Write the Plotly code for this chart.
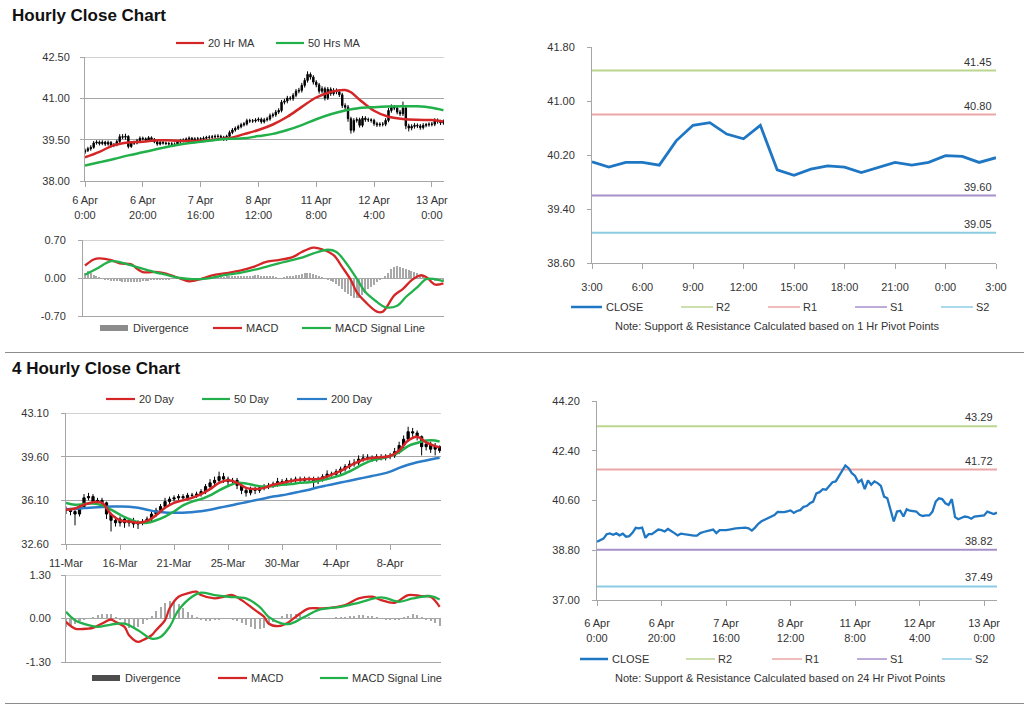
import plotly.graph_objects as go

W, H = 1024, 706

# ---------------- DATA ----------------
# Hourly bars (6 Apr 0:00 -> 13 Apr ~4:00), index = hour number
hourly_open = [39.05, 39.11, 39.17, 39.22, 39.38, 39.41, 39.36, 39.41, 39.34, 39.40,
               39.29, 39.31, 39.43, 39.61, 39.59, 39.62, 39.25, 39.38, 39.38, 39.46,
               39.55, 39.53, 39.48, 39.57, 39.51, 39.42, 39.34, 39.40, 39.38, 39.36,
               39.35, 39.33, 39.33, 39.42, 39.46, 39.48, 39.52, 39.55, 39.42, 39.53,
               39.52, 39.53, 39.55, 39.58, 39.59, 39.60, 39.62, 39.62, 39.59, 39.51,
               39.62, 39.76, 39.85, 39.91, 39.97, 40.04, 40.07, 40.19, 40.18, 40.18,
               40.21, 40.24, 40.15, 40.22, 40.25, 40.37, 40.40, 40.50, 40.56, 40.86,
               40.90, 41.01, 40.99, 41.11, 41.26, 41.29, 41.47, 41.65, 41.87, 41.77,
               41.59, 41.49, 41.26, 41.35, 41.01, 41.33, 41.17, 41.29, 41.23, 41.13,
               40.74, 40.68, 40.26, 39.84, 40.20, 40.23, 40.02, 40.28, 40.23, 40.22,
               40.20, 40.08, 40.04, 40.06, 40.06, 40.20, 40.56, 40.68, 40.65, 40.50,
               40.44, 40.65, 40.00, 39.92, 39.98, 40.02, 40.00, 39.94, 40.02, 40.04,
               40.06, 40.06, 40.20, 40.16, 40.11]
hourly_high = [39.18, 39.24, 39.30, 39.45, 39.48, 39.47, 39.48, 39.46, 39.47, 39.45,
               39.38, 39.50, 39.70, 39.70, 39.72, 39.66, 39.45, 39.46, 39.53, 39.62,
               39.61, 39.58, 39.63, 39.62, 39.56, 39.47, 39.46, 39.45, 39.43, 39.42,
               39.41, 39.40, 39.48, 39.53, 39.55, 39.58, 39.62, 39.60, 39.59, 39.60,
               39.59, 39.62, 39.64, 39.66, 39.67, 39.69, 39.70, 39.68, 39.64, 39.68,
               39.83, 39.92, 39.98, 40.04, 40.11, 40.14, 40.26, 40.26, 40.25, 40.28,
               40.31, 40.30, 40.29, 40.33, 40.45, 40.48, 40.58, 40.64, 40.94, 40.98,
               41.09, 41.08, 41.19, 41.34, 41.38, 41.56, 41.74, 41.98, 41.94, 41.84,
               41.66, 41.56, 41.44, 41.42, 41.41, 41.40, 41.37, 41.36, 41.30, 41.20,
               40.82, 40.76, 40.33, 40.28, 40.31, 40.30, 40.36, 40.35, 40.30, 40.28,
               40.26, 40.15, 40.13, 40.14, 40.28, 40.65, 40.78, 40.76, 40.72, 40.58,
               40.88, 40.72, 40.08, 40.06, 40.10, 40.09, 40.07, 40.10, 40.11, 40.13,
               40.14, 40.28, 40.27, 40.22, 40.23]
hourly_low = [38.98, 39.05, 39.10, 39.17, 39.32, 39.29, 39.30, 39.27, 39.28, 39.22,
              39.23, 39.26, 39.38, 39.52, 39.50, 39.18, 39.20, 39.31, 39.33, 39.41,
              39.47, 39.42, 39.44, 39.46, 39.37, 39.28, 39.29, 39.32, 39.30, 39.28,
              39.27, 39.26, 39.28, 39.37, 39.40, 39.42, 39.46, 39.36, 39.37, 39.46,
              39.45, 39.47, 39.49, 39.52, 39.53, 39.54, 39.55, 39.52, 39.45, 39.46,
              39.57, 39.70, 39.79, 39.85, 39.91, 39.98, 40.01, 40.11, 40.11, 40.12,
              40.15, 40.08, 40.09, 40.16, 40.19, 40.30, 40.33, 40.43, 40.49, 40.78,
              40.82, 40.92, 40.91, 41.04, 41.18, 41.21, 41.39, 41.57, 41.68, 41.50,
              41.40, 41.17, 41.18, 40.92, 40.94, 41.09, 41.10, 41.15, 41.05, 40.65,
              40.58, 40.15, 39.72, 39.76, 40.12, 39.94, 39.95, 40.15, 40.14, 40.12,
              40.00, 39.96, 39.97, 39.98, 39.99, 40.13, 40.48, 40.57, 40.42, 40.36,
              40.36, 39.88, 39.80, 39.84, 39.90, 39.92, 39.86, 39.87, 39.95, 39.97,
              39.98, 39.99, 40.08, 40.03, 40.04]
hourly_close = [39.11, 39.17, 39.22, 39.38, 39.41, 39.36, 39.41, 39.34, 39.40, 39.29,
                39.31, 39.43, 39.61, 39.59, 39.62, 39.25, 39.38, 39.38, 39.46, 39.55,
                39.53, 39.48, 39.57, 39.51, 39.42, 39.34, 39.40, 39.38, 39.36, 39.35,
                39.33, 39.33, 39.42, 39.46, 39.48, 39.52, 39.55, 39.42, 39.53, 39.52,
                39.53, 39.55, 39.58, 39.59, 39.60, 39.62, 39.62, 39.59, 39.51, 39.62,
                39.76, 39.85, 39.91, 39.97, 40.04, 40.07, 40.19, 40.18, 40.18, 40.21,
                40.24, 40.15, 40.22, 40.25, 40.37, 40.40, 40.50, 40.56, 40.86, 40.90,
                41.01, 40.99, 41.11, 41.26, 41.29, 41.47, 41.65, 41.87, 41.77, 41.59,
                41.49, 41.26, 41.35, 41.01, 41.33, 41.17, 41.29, 41.23, 41.13, 40.74,
                40.68, 40.26, 39.84, 40.20, 40.23, 40.02, 40.28, 40.23, 40.22, 40.20,
                40.08, 40.04, 40.06, 40.06, 40.20, 40.56, 40.68, 40.65, 40.50, 40.44,
                40.65, 40.00, 39.92, 39.98, 40.02, 40.00, 39.94, 40.02, 40.04, 40.06,
                40.06, 40.20, 40.16, 40.11, 40.16]
hourly_index = list(range(len(hourly_close)))
hourly_tick_pos = [0, 20, 40, 60, 80, 100, 120]
hourly_tick_text = ["6 Apr<br>0:00", "6 Apr<br>20:00", "7 Apr<br>16:00", "8 Apr<br>12:00",
                    "11 Apr<br>8:00", "12 Apr<br>4:00", "13 Apr<br>0:00"]

ma_hr_pos = [0, 5, 10, 15, 20, 25, 30, 35, 40, 45, 50, 55, 60, 65, 70, 75, 80, 85, 90,
             92, 95, 100, 105, 110, 115, 120, 124]
ma20_hr = [38.86, 39.06, 39.30, 39.40, 39.42, 39.48, 39.47, 39.45, 39.46, 39.51, 39.56,
           39.70, 39.85, 40.05, 40.33, 40.69, 41.03, 41.23, 41.30, 41.22, 40.95, 40.55,
           40.33, 40.25, 40.22, 40.21, 40.16]
ma50_hr = [38.56, 38.68, 38.80, 38.93, 39.04, 39.16, 39.27, 39.36, 39.42, 39.49, 39.53,
           39.55, 39.63, 39.71, 39.85, 40.03, 40.24, 40.42, 40.56, 40.60, 40.65, 40.68,
           40.70, 40.71, 40.71, 40.66, 40.57]

macd_hr_pos = [0, 3, 5, 9, 12, 16, 18, 20, 25, 28, 33, 36, 40, 44, 49, 54, 58, 63, 67, 72,
               75, 79, 82, 86, 89, 92, 94, 97, 101, 103, 107, 110, 113, 116, 118, 121, 124]
macd_hr = [0.23, 0.34, 0.36, 0.33, 0.27, 0.25, 0.17, 0.11, 0.11, 0.08, -0.01, -0.06, -0.02,
           0.05, 0.09, 0.14, 0.20, 0.30, 0.33, 0.39, 0.48, 0.56, 0.53, 0.42, 0.20, -0.04,
           -0.26, -0.44, -0.62, -0.62, -0.32, -0.20, -0.04, 0.05, 0.02, -0.12, -0.10]
signal_hr_pos = [0, 4, 9, 13, 18, 24, 28, 33, 37, 42, 47, 54, 60, 67, 74, 80, 84, 87, 90,
                 94, 97, 101, 104, 108, 111, 115, 118, 121, 124]
signal_hr = [0.06, 0.17, 0.31, 0.28, 0.20, 0.11, 0.06, 0.00, -0.02, -0.01, 0.04, 0.10, 0.17,
             0.27, 0.36, 0.47, 0.52, 0.48, 0.30, -0.01, -0.26, -0.44, -0.54, -0.51, -0.35,
             -0.17, -0.02, -0.02, -0.06]
divergence_hr = [0.10, 0.12, 0.10, 0.06, 0.03, 0.01, -0.01, -0.03, -0.04, -0.05,
                 -0.05, -0.06, -0.06, -0.07, -0.07, -0.08, -0.08, -0.08, -0.07, -0.07,
                 -0.06, -0.05, -0.05, -0.04, -0.04, -0.03, -0.03, -0.02, -0.02, -0.02,
                 -0.01, -0.01, -0.01, 0.00, -0.01, -0.02, -0.02, -0.01, 0.00, 0.00,
                 0.00, 0.01, 0.01, 0.01, 0.01, 0.02, 0.02, 0.01, 0.01, 0.02,
                 0.02, 0.02, 0.02, 0.03, 0.03, 0.02, 0.03, 0.04, 0.04, 0.05,
                 0.05, 0.04, 0.04, 0.03, 0.03, 0.02, 0.01, 0.00, 0.00, 0.01,
                 0.02, 0.03, 0.04, 0.05, 0.06, 0.08, 0.09, 0.10, 0.09, 0.07,
                 0.05, 0.03, 0.01, -0.01, -0.03, -0.05, -0.08, -0.11, -0.15, -0.20,
                 -0.25, -0.29, -0.33, -0.36, -0.37, -0.36, -0.32, -0.27, -0.21, -0.16,
                 -0.12, -0.08, -0.04, 0.00, 0.04, 0.10, 0.16, 0.20, 0.22, 0.21,
                 0.19, 0.17, 0.15, 0.13, 0.11, 0.09, 0.05, 0.02, 0.00, -0.03,
                 -0.04, -0.05, -0.05, -0.06, -0.08]

# 1-hour pivot chart (3:00 -> 3:00)
pivot1_close = [40.10, 40.02, 40.09, 40.09, 40.05, 40.41, 40.64, 40.68, 40.51, 40.44,
                40.64, 39.98, 39.90, 39.99, 40.04, 40.02, 39.94, 40.02, 40.09, 40.05,
                40.09, 40.19, 40.18, 40.09, 40.16]
pivot1_tick_pos = [0, 3, 6, 9, 12, 15, 18, 21, 24]
pivot1_tick_text = ["3:00", "6:00", "9:00", "12:00", "15:00", "18:00", "21:00", "0:00", "3:00"]
pivot1_levels = {"R2": 41.45, "R1": 40.80, "S1": 39.60, "S2": 39.05}

# 24-hour pivot levels (close = hourly_close)
pivot24_levels = {"R2": 43.29, "R1": 41.72, "S1": 38.82, "S2": 37.49}

# 4-hourly bars (11-Mar -> 12-Apr)
h4_open = [35.4, 35.3, 35.2, 35.0, 35.6, 36.3, 36.4, 36.0, 36.1, 35.9,
           35.0, 34.5, 34.3, 34.6, 34.3, 34.5, 34.2, 34.3, 34.4, 34.6,
           35.0, 35.3, 35.6, 36.0, 36.2, 36.3, 36.4, 36.3, 36.5, 36.5,
           36.6, 36.8, 37.2, 37.5, 37.7, 38.0, 37.8, 37.6, 37.7, 37.3,
           36.9, 36.7, 37.0, 36.9, 37.1, 37.2, 37.3, 37.4, 37.6, 37.5,
           37.7, 37.7, 37.8, 37.7, 37.8, 37.8, 37.6, 37.8, 38.0, 38.2,
           38.2, 38.4, 38.6, 38.8, 39.0, 39.1, 39.4, 39.5, 39.5, 39.4,
           39.6, 39.5, 39.6, 39.7, 40.0, 40.5, 41.0, 41.6, 41.5, 41.2,
           40.4, 40.6, 40.2, 40.4]
h4_high = [35.6, 35.5, 35.4, 35.8, 36.6, 36.7, 36.6, 36.3, 36.3, 36.0,
           35.1, 34.8, 34.8, 34.8, 34.7, 34.7, 34.5, 34.6, 34.8, 35.2,
           35.5, 35.8, 36.3, 36.4, 36.5, 36.6, 36.6, 36.7, 36.7, 36.8,
           37.0, 37.4, 37.8, 38.0, 38.4, 38.3, 38.0, 37.9, 37.9, 37.5,
           37.1, 37.2, 37.2, 37.3, 37.4, 37.5, 37.6, 37.9, 37.8, 37.9,
           37.9, 38.0, 38.0, 38.0, 38.0, 38.0, 38.0, 38.2, 38.5, 38.4,
           38.6, 38.8, 39.0, 39.3, 39.4, 39.7, 39.8, 39.8, 39.7, 39.8,
           39.8, 39.8, 39.9, 40.3, 40.8, 41.3, 42.0, 41.9, 41.7, 41.3,
           40.9, 40.8, 40.7, 40.5]
h4_low = [35.0, 34.9, 34.1, 34.8, 35.5, 36.1, 35.8, 35.8, 35.6, 34.6,
          33.6, 34.0, 34.0, 33.9, 34.0, 33.9, 33.8, 34.1, 34.2, 34.4,
          34.8, 35.1, 35.4, 35.8, 36.0, 36.1, 36.1, 36.1, 36.3, 36.3,
          36.4, 36.6, 37.0, 37.3, 37.5, 37.5, 37.3, 37.4, 37.0, 36.6,
          36.4, 36.5, 36.6, 36.7, 36.9, 37.0, 37.1, 37.2, 37.3, 37.3,
          37.5, 37.5, 37.5, 37.5, 37.6, 37.1, 37.4, 37.6, 37.8, 38.0,
          38.0, 38.2, 38.4, 38.6, 38.8, 38.9, 39.2, 39.3, 39.2, 39.2,
          39.3, 39.3, 39.4, 39.5, 39.8, 40.3, 40.8, 41.2, 40.9, 39.7,
          40.1, 39.9, 39.7, 39.9]
h4_close = [35.3, 35.2, 35.0, 35.6, 36.3, 36.4, 36.0, 36.1, 35.9, 35.0,
            34.5, 34.3, 34.6, 34.3, 34.5, 34.2, 34.3, 34.4, 34.6, 35.0,
            35.3, 35.6, 36.0, 36.2, 36.3, 36.4, 36.3, 36.5, 36.5, 36.6,
            36.8, 37.2, 37.5, 37.7, 38.0, 37.8, 37.6, 37.7, 37.3, 36.9,
            36.7, 37.0, 36.9, 37.1, 37.2, 37.3, 37.4, 37.6, 37.5, 37.7,
            37.7, 37.8, 37.7, 37.8, 37.8, 37.6, 37.8, 38.0, 38.2, 38.2,
            38.4, 38.6, 38.8, 39.0, 39.1, 39.4, 39.5, 39.5, 39.4, 39.6,
            39.5, 39.6, 39.7, 40.0, 40.5, 41.0, 41.6, 41.5, 41.2, 40.4,
            40.6, 40.2, 40.4, 40.1]
h4_index = list(range(len(h4_close)))
h4_tick_pos = [0, 12, 24, 36, 48, 60, 72]
h4_tick_text = ["11-Mar", "16-Mar", "21-Mar", "25-Mar", "30-Mar", "4-Apr", "8-Apr"]

ma4_pos = [0, 2, 4, 6, 8, 10, 12, 14, 16, 18, 20, 22, 24, 26, 28, 30, 32, 34, 36, 38, 40,
           42, 44, 46, 48, 50, 52, 54, 56, 58, 60, 62, 64, 66, 68, 70, 72, 74, 76, 78, 80,
           82, 83]
ma20_day = [35.35, 35.45, 35.75, 35.95, 35.9, 35.0, 34.5, 34.4, 34.3, 34.45, 34.9, 35.5,
            35.9, 36.1, 36.3, 36.6, 37.0, 37.5, 37.7, 37.5, 37.1, 37.0, 37.1, 37.35, 37.5,
            37.65, 37.75, 37.8, 37.8, 38.0, 38.3, 38.65, 39.05, 39.35, 39.5, 39.55, 39.65,
            40.1, 40.9, 41.2, 40.75, 40.45, 40.35]
ma50_day = [35.9, 35.75, 35.8, 35.85, 35.7, 35.35, 34.95, 34.6, 34.35, 34.3, 34.5, 34.8,
            35.2, 35.7, 36.0, 36.2, 36.5, 36.9, 37.25, 37.5, 37.45, 37.3, 37.2, 37.25, 37.35,
            37.4, 37.5, 37.55, 37.65, 37.8, 38.0, 38.25, 38.6, 39.0, 39.3, 39.45, 39.65,
            39.95, 40.45, 40.7, 40.9, 40.9, 40.8]
ma200_day = [35.38, 35.42, 35.48, 35.52, 35.56, 35.6, 35.6, 35.58, 35.5, 35.35, 35.2, 35.12,
             35.1, 35.1, 35.15, 35.22, 35.35, 35.5, 35.65, 35.8, 35.95, 36.1, 36.25, 36.4,
             36.5, 36.65, 36.8, 36.95, 37.15, 37.3, 37.45, 37.6, 37.75, 37.9, 38.05, 38.2,
             38.4, 38.7, 38.95, 39.15, 39.3, 39.45, 39.52]

macd4_pos = [0, 2, 5, 6, 8, 10, 11, 13, 14, 16, 17, 19, 20, 22, 23, 25, 27, 29, 30, 33,
             35, 37, 39, 42, 44, 45, 47, 49, 51, 54, 57, 62, 65, 68, 70, 73, 76, 79, 81, 83]
macd4 = [-0.10, -0.30, -0.30, -0.28, -0.15, -0.03, -0.10, -0.25, -0.50, -0.70,
         -0.65, -0.50, -0.35, -0.05, 0.30, 0.65, 0.75, 0.80, 0.70, 0.60,
         0.65, 0.70, 0.55, 0.25, 0.05, -0.15, -0.23, -0.15, 0.05, 0.30,
         0.30, 0.40, 0.60, 0.65, 0.55, 0.47, 0.70, 0.67, 0.65, 0.35]
signal4_pos = [0, 2, 5, 7, 10, 13, 16, 19, 21, 23, 25, 28, 30, 33, 36, 40, 43, 45, 48, 50,
               53, 56, 61, 65, 70, 74, 77, 81, 83]
signal4 = [0.20, -0.05, -0.20, -0.25, -0.18, -0.15, -0.35, -0.60, -0.55, -0.25,
           0.25, 0.65, 0.77, 0.70, 0.65, 0.60, 0.35, 0.05, -0.15, -0.15,
           0.05, 0.25, 0.35, 0.47, 0.63, 0.50, 0.60, 0.67, 0.57]
divergence4 = [-0.25, -0.22, -0.15, -0.08, -0.03, 0.00, 0.05, 0.10, 0.13, 0.14,
               0.12, 0.05, -0.05, -0.18, -0.27, -0.30, -0.25, -0.15, -0.05, 0.08,
               0.22, 0.35, 0.45, 0.53, 0.50, 0.42, 0.32, 0.20, 0.10, 0.03,
               -0.03, -0.06, -0.06, -0.05, -0.03, -0.01, 0.00, -0.02, -0.06, -0.12,
               -0.18, -0.25, -0.30, -0.30, -0.27, -0.20, -0.10, 0.00, 0.08, 0.12,
               0.14, 0.13, 0.10, 0.06, 0.03, 0.01, 0.00, -0.01, -0.01, 0.00,
               0.02, 0.03, 0.04, 0.06, 0.08, 0.10, 0.10, 0.08, 0.06, 0.03,
               0.00, -0.03, -0.05, -0.05, -0.03, 0.02, 0.08, 0.12, 0.10, 0.05,
               -0.03, -0.08, -0.12, -0.22]

# Y-axis tick values per panel
ticks_hourly = [38.00, 39.50, 41.00, 42.50]
ticks_macd_hr = [-0.70, 0.00, 0.70]
ticks_pivot1 = [38.60, 39.40, 40.20, 41.00, 41.80]
ticks_h4 = [32.60, 36.10, 39.60, 43.10]
ticks_macd4 = [-1.30, 0.00, 1.30]
ticks_pivot24 = [37.00, 38.80, 40.60, 42.40, 44.20]

# ---------------- STYLE ----------------
FONT = "Liberation Sans, Arial, sans-serif"
TXT = "#333333"
GRID = "#a6a6a6"
RED = "#d42626"
GREEN = "#22b04b"
BLUE200 = "#2b7cc9"
CLOSE_BLUE = "#1f77c4"
LEVEL_COL = {"R2": "#bcd68f", "R1": "#eba7a7", "S1": "#a690cc", "S2": "#8ccce3"}
BAR_GRAY = "#a8a8a8"


def xd(l, r):
    return [l / W, r / W]


def yd(t, b):
    return [1 - b / H, 1 - t / H]


fig = go.Figure()

# ---- Panel A: hourly candles + MAs ----
fig.add_trace(go.Candlestick(
    x=hourly_index, open=hourly_open, high=hourly_high, low=hourly_low, close=hourly_close,
    increasing=dict(line=dict(color="black", width=1), fillcolor="black"),
    decreasing=dict(line=dict(color="black", width=1), fillcolor="black"),
    whiskerwidth=0, xaxis="x", yaxis="y", showlegend=False, hoverinfo="skip"))
fig.add_trace(go.Scatter(x=ma_hr_pos, y=ma20_hr, mode="lines", line=dict(color=RED, width=2.5, shape="spline"),
                         xaxis="x", yaxis="y", showlegend=False))
fig.add_trace(go.Scatter(x=ma_hr_pos, y=ma50_hr, mode="lines", line=dict(color=GREEN, width=2.5, shape="spline"),
                         xaxis="x", yaxis="y", showlegend=False))

# ---- Panel B: hourly MACD ----
fig.add_trace(go.Bar(x=hourly_index, y=divergence_hr, marker=dict(color=BAR_GRAY, line=dict(width=0)),
                     width=0.45, xaxis="x2", yaxis="y2", showlegend=False))
fig.add_trace(go.Scatter(x=macd_hr_pos, y=macd_hr, mode="lines", line=dict(color=RED, width=2.3, shape="spline"),
                         xaxis="x2", yaxis="y2", showlegend=False))
fig.add_trace(go.Scatter(x=signal_hr_pos, y=signal_hr, mode="lines", line=dict(color=GREEN, width=2.3, shape="spline"),
                         xaxis="x2", yaxis="y2", showlegend=False))

# ---- Panel C: 1 Hr pivot chart ----
p1x = list(range(len(pivot1_close)))
for name, val in pivot1_levels.items():
    fig.add_trace(go.Scatter(x=[p1x[0], p1x[-1]], y=[val, val], mode="lines",
                             line=dict(color=LEVEL_COL[name], width=2), xaxis="x3", yaxis="y3", showlegend=False))
fig.add_trace(go.Scatter(x=p1x, y=pivot1_close, mode="lines", line=dict(color=CLOSE_BLUE, width=2.8),
                         xaxis="x3", yaxis="y3", showlegend=False))

# ---- Panel D: 4 hourly candles + MAs ----
fig.add_trace(go.Candlestick(
    x=h4_index, open=h4_open, high=h4_high, low=h4_low, close=h4_close,
    increasing=dict(line=dict(color="black", width=1), fillcolor="black"),
    decreasing=dict(line=dict(color="black", width=1), fillcolor="black"),
    whiskerwidth=0, xaxis="x4", yaxis="y4", showlegend=False, hoverinfo="skip"))
fig.add_trace(go.Scatter(x=ma4_pos, y=ma200_day, mode="lines", line=dict(color=BLUE200, width=2.5, shape="spline"),
                         xaxis="x4", yaxis="y4", showlegend=False))
fig.add_trace(go.Scatter(x=ma4_pos, y=ma50_day, mode="lines", line=dict(color=GREEN, width=2.5, shape="spline"),
                         xaxis="x4", yaxis="y4", showlegend=False))
fig.add_trace(go.Scatter(x=ma4_pos, y=ma20_day, mode="lines", line=dict(color=RED, width=2.5, shape="spline"),
                         xaxis="x4", yaxis="y4", showlegend=False))

# ---- Panel E: 4 hourly MACD ----
fig.add_trace(go.Bar(x=h4_index, y=divergence4, marker=dict(color=BAR_GRAY, line=dict(width=0)),
                     width=0.45, xaxis="x5", yaxis="y5", showlegend=False))
fig.add_trace(go.Scatter(x=macd4_pos, y=macd4, mode="lines", line=dict(color=RED, width=2.3, shape="spline"),
                         xaxis="x5", yaxis="y5", showlegend=False))
fig.add_trace(go.Scatter(x=signal4_pos, y=signal4, mode="lines", line=dict(color=GREEN, width=2.3, shape="spline"),
                         xaxis="x5", yaxis="y5", showlegend=False))

# ---- Panel F: 24 Hr pivot chart ----
for name, val in pivot24_levels.items():
    fig.add_trace(go.Scatter(x=[hourly_index[0], hourly_index[-1]], y=[val, val], mode="lines",
                             line=dict(color=LEVEL_COL[name], width=2), xaxis="x6", yaxis="y6", showlegend=False))
fig.add_trace(go.Scatter(x=hourly_index, y=hourly_close, mode="lines", line=dict(color=CLOSE_BLUE, width=2.3),
                         xaxis="x6", yaxis="y6", showlegend=False))

# ---------------- AXES ----------------
tickfont = dict(family=FONT, size=11, color=TXT)


def yaxis(domain, tickvals, anchor, grid, standoff, zeroline=False):
    return dict(domain=domain, range=[tickvals[0], tickvals[-1]], automargin=False,
                tickmode="array", tickvals=tickvals, ticktext=["%.2f" % v for v in tickvals],
                showgrid=grid, gridcolor=GRID, gridwidth=1,
                showline=True, linecolor=GRID, linewidth=1,
                ticks="outside", ticklen=4, tickcolor=GRID, tickfont=tickfont,
                ticklabelstandoff=standoff,
                zeroline=zeroline, zerolinecolor=GRID, zerolinewidth=1,
                anchor=anchor, fixedrange=True)


def xaxis(domain, rng, anchor, tickvals=None, ticktext=None, standoff=0):
    d = dict(domain=domain, range=rng, anchor=anchor, showgrid=False, zeroline=False, automargin=False,
             showline=True, linecolor=GRID, linewidth=1, fixedrange=True,
             rangeslider=dict(visible=False))
    if tickvals is not None:
        d.update(tickmode="array", tickvals=tickvals, ticktext=ticktext, ticks="outside",
                 ticklen=5, tickcolor=GRID, tickfont=tickfont, ticklabelstandoff=standoff, showticklabels=True)
    else:
        d.update(showticklabels=False, ticks="")
    return d


fig.update_layout(
    xaxis=xaxis(xd(85, 444), [0, 124.2], "y", hourly_tick_pos, hourly_tick_text, 4),
    yaxis=yaxis(yd(57, 181), ticks_hourly, "x", True, 8),
    xaxis2=xaxis(xd(83, 444), [-0.7, 124.2], "y2"),
    yaxis2=yaxis(yd(240, 316), ticks_macd_hr, "x2", True, 10, zeroline=True),
    xaxis3=xaxis(xd(592, 996), [0, 24], "y3", pivot1_tick_pos, pivot1_tick_text, 9),
    yaxis3=yaxis(yd(47, 263), ticks_pivot1, "x3", False, 10),
    xaxis4=xaxis(xd(66, 441), [0, 83.3], "y4", h4_tick_pos, h4_tick_text, 4),
    yaxis4=yaxis(yd(413, 544), ticks_h4, "x4", True, 10),
    xaxis5=xaxis(xd(66, 441), [0, 83.3], "y5"),
    yaxis5=yaxis(yd(575, 662), ticks_macd4, "x5", True, 8, zeroline=True),
    xaxis6=xaxis(xd(597, 997), [0, 124], "y6", hourly_tick_pos, hourly_tick_text, 8),
    yaxis6=yaxis(yd(401, 600), ticks_pivot24, "x6", False, 10),
)

# ---------------- LEGENDS, TITLES, NOTES ----------------
shapes = []
annotations = []

# top gridline of each gridded panel (at the highest tick value)
for xa, ya, tv in [("x", "y", ticks_hourly), ("x2", "y2", ticks_macd_hr),
                   ("x4", "y4", ticks_h4), ("x5", "y5", ticks_macd4)]:
    shapes.append(dict(type="line", xref=xa + " domain", yref=ya, x0=0, x1=1, y0=tv[-1], y1=tv[-1],
                       line=dict(color=GRID, width=1), layer="below"))


def px(x):
    return x / W


def py(y):
    return 1 - y / H


def leg_line(x0, x1, y, color, width=2.2):
    shapes.append(dict(type="line", xref="paper", yref="paper", x0=px(x0), x1=px(x1), y0=py(y), y1=py(y),
                       line=dict(color=color, width=width)))


def leg_box(x0, x1, y, color):
    shapes.append(dict(type="rect", xref="paper", yref="paper", x0=px(x0), x1=px(x1), y0=py(y + 3), y1=py(y - 3),
                       line=dict(width=0), fillcolor=color))


def text(x, y, s, size=11, anchor="left", bold=False, color=TXT):
    annotations.append(dict(xref="paper", yref="paper", x=px(x), y=py(y), text=("<b>%s</b>" % s) if bold else s,
                            showarrow=False, xanchor=anchor, yanchor="middle",
                            font=dict(family=FONT, size=size, color=color)))


# Titles
text(10, 16, "Hourly Close Chart", size=17, bold=True, color="#111111")
text(10, 369, "4 Hourly Close Chart", size=17, bold=True, color="#111111")

# Panel A legend
leg_line(176, 204, 43, RED)
text(206, 43, "20 Hr MA")
leg_line(276, 304, 43, GREEN)
text(306, 43, "50 Hrs MA")

# Panel B legend
leg_box(100, 128, 328, "#8c8c8c")
text(131, 328, "Divergence")
leg_line(213, 242, 328, RED)
text(244, 328, "MACD")
leg_line(302, 331, 328, GREEN)
text(333, 328, "MACD Signal Line")

# Panel C legend
leg_line(571, 602, 307, CLOSE_BLUE, 2.5)
text(604, 307, "CLOSE")
leg_line(681, 713, 307, LEVEL_COL["R2"], 1.5)
text(714, 307, "R2")
leg_line(768, 800, 307, LEVEL_COL["R1"], 1.5)
text(801, 307, "R1")
leg_line(855, 887, 307, LEVEL_COL["S1"], 1.5)
text(888, 307, "S1")
leg_line(941, 973, 307, LEVEL_COL["S2"], 1.5)
text(974, 307, "S2")
text(777, 326, "Note: Support & Resistance Calculated based on 1 Hr Pivot Points", anchor="center")

# Panel D legend
leg_line(106, 135, 399, RED)
text(137, 399, "20 Day")
leg_line(202, 230, 399, GREEN)
text(232, 399, "50 Day")
leg_line(297, 327, 399, BLUE200)
text(329, 399, "200 Day")

# Panel E legend
leg_box(92, 120, 678, "#4d4d4d")
text(123, 678, "Divergence")
leg_line(218, 247, 678, RED)
text(249, 678, "MACD")
leg_line(320, 348, 678, GREEN)
text(350, 678, "MACD Signal Line")

# Panel F legend
leg_line(580, 608, 659, CLOSE_BLUE, 2.5)
text(610, 659, "CLOSE")
leg_line(686, 715, 659, LEVEL_COL["R2"], 1.5)
text(716, 659, "R2")
leg_line(772, 802, 659, LEVEL_COL["R1"], 1.5)
text(803, 659, "R1")
leg_line(857, 887, 659, LEVEL_COL["S1"], 1.5)
text(888, 659, "S1")
leg_line(942, 972, 659, LEVEL_COL["S2"], 1.5)
text(973, 659, "S2")
text(780, 678, "Note: Support & Resistance Calculated based on 24 Hr Pivot Points", anchor="center")

# Level value labels (positioned by data values)
for name, val in pivot1_levels.items():
    annotations.append(dict(xref="x3", yref="y3", x=pivot1_tick_pos[-1], y=val, text="%.2f" % val,
                            showarrow=False, xanchor="right", yanchor="bottom", xshift=-2, yshift=1,
                            font=dict(family=FONT, size=11, color=TXT)))
for name, val in pivot24_levels.items():
    annotations.append(dict(xref="x6", yref="y6", x=hourly_index[-1], y=val, text="%.2f" % val,
                            showarrow=False, xanchor="right", yanchor="bottom", xshift=-2, yshift=1,
                            font=dict(family=FONT, size=11, color=TXT)))

# Separators
shapes.append(dict(type="line", xref="paper", yref="paper", x0=px(5), x1=px(1024), y0=py(352.5), y1=py(352.5),
                   line=dict(color="#8c8c8c", width=1)))
shapes.append(dict(type="line", xref="paper", yref="paper", x0=px(5), x1=px(1024), y0=py(703.5), y1=py(703.5),
                   line=dict(color="#8c8c8c", width=1)))

fig.update_layout(
    template="none",
    width=W, height=H, margin=dict(l=0, r=0, t=0, b=0, pad=0, autoexpand=False),
    paper_bgcolor="white", plot_bgcolor="white",
    font=dict(family=FONT, size=11, color=TXT),
    showlegend=False, bargap=0,
    shapes=shapes, annotations=annotations,
)

fig.write_html("out.html", config={"displayModeBar": False},
               post_script="document.body.style.margin='0px';document.body.style.overflow='hidden';")
